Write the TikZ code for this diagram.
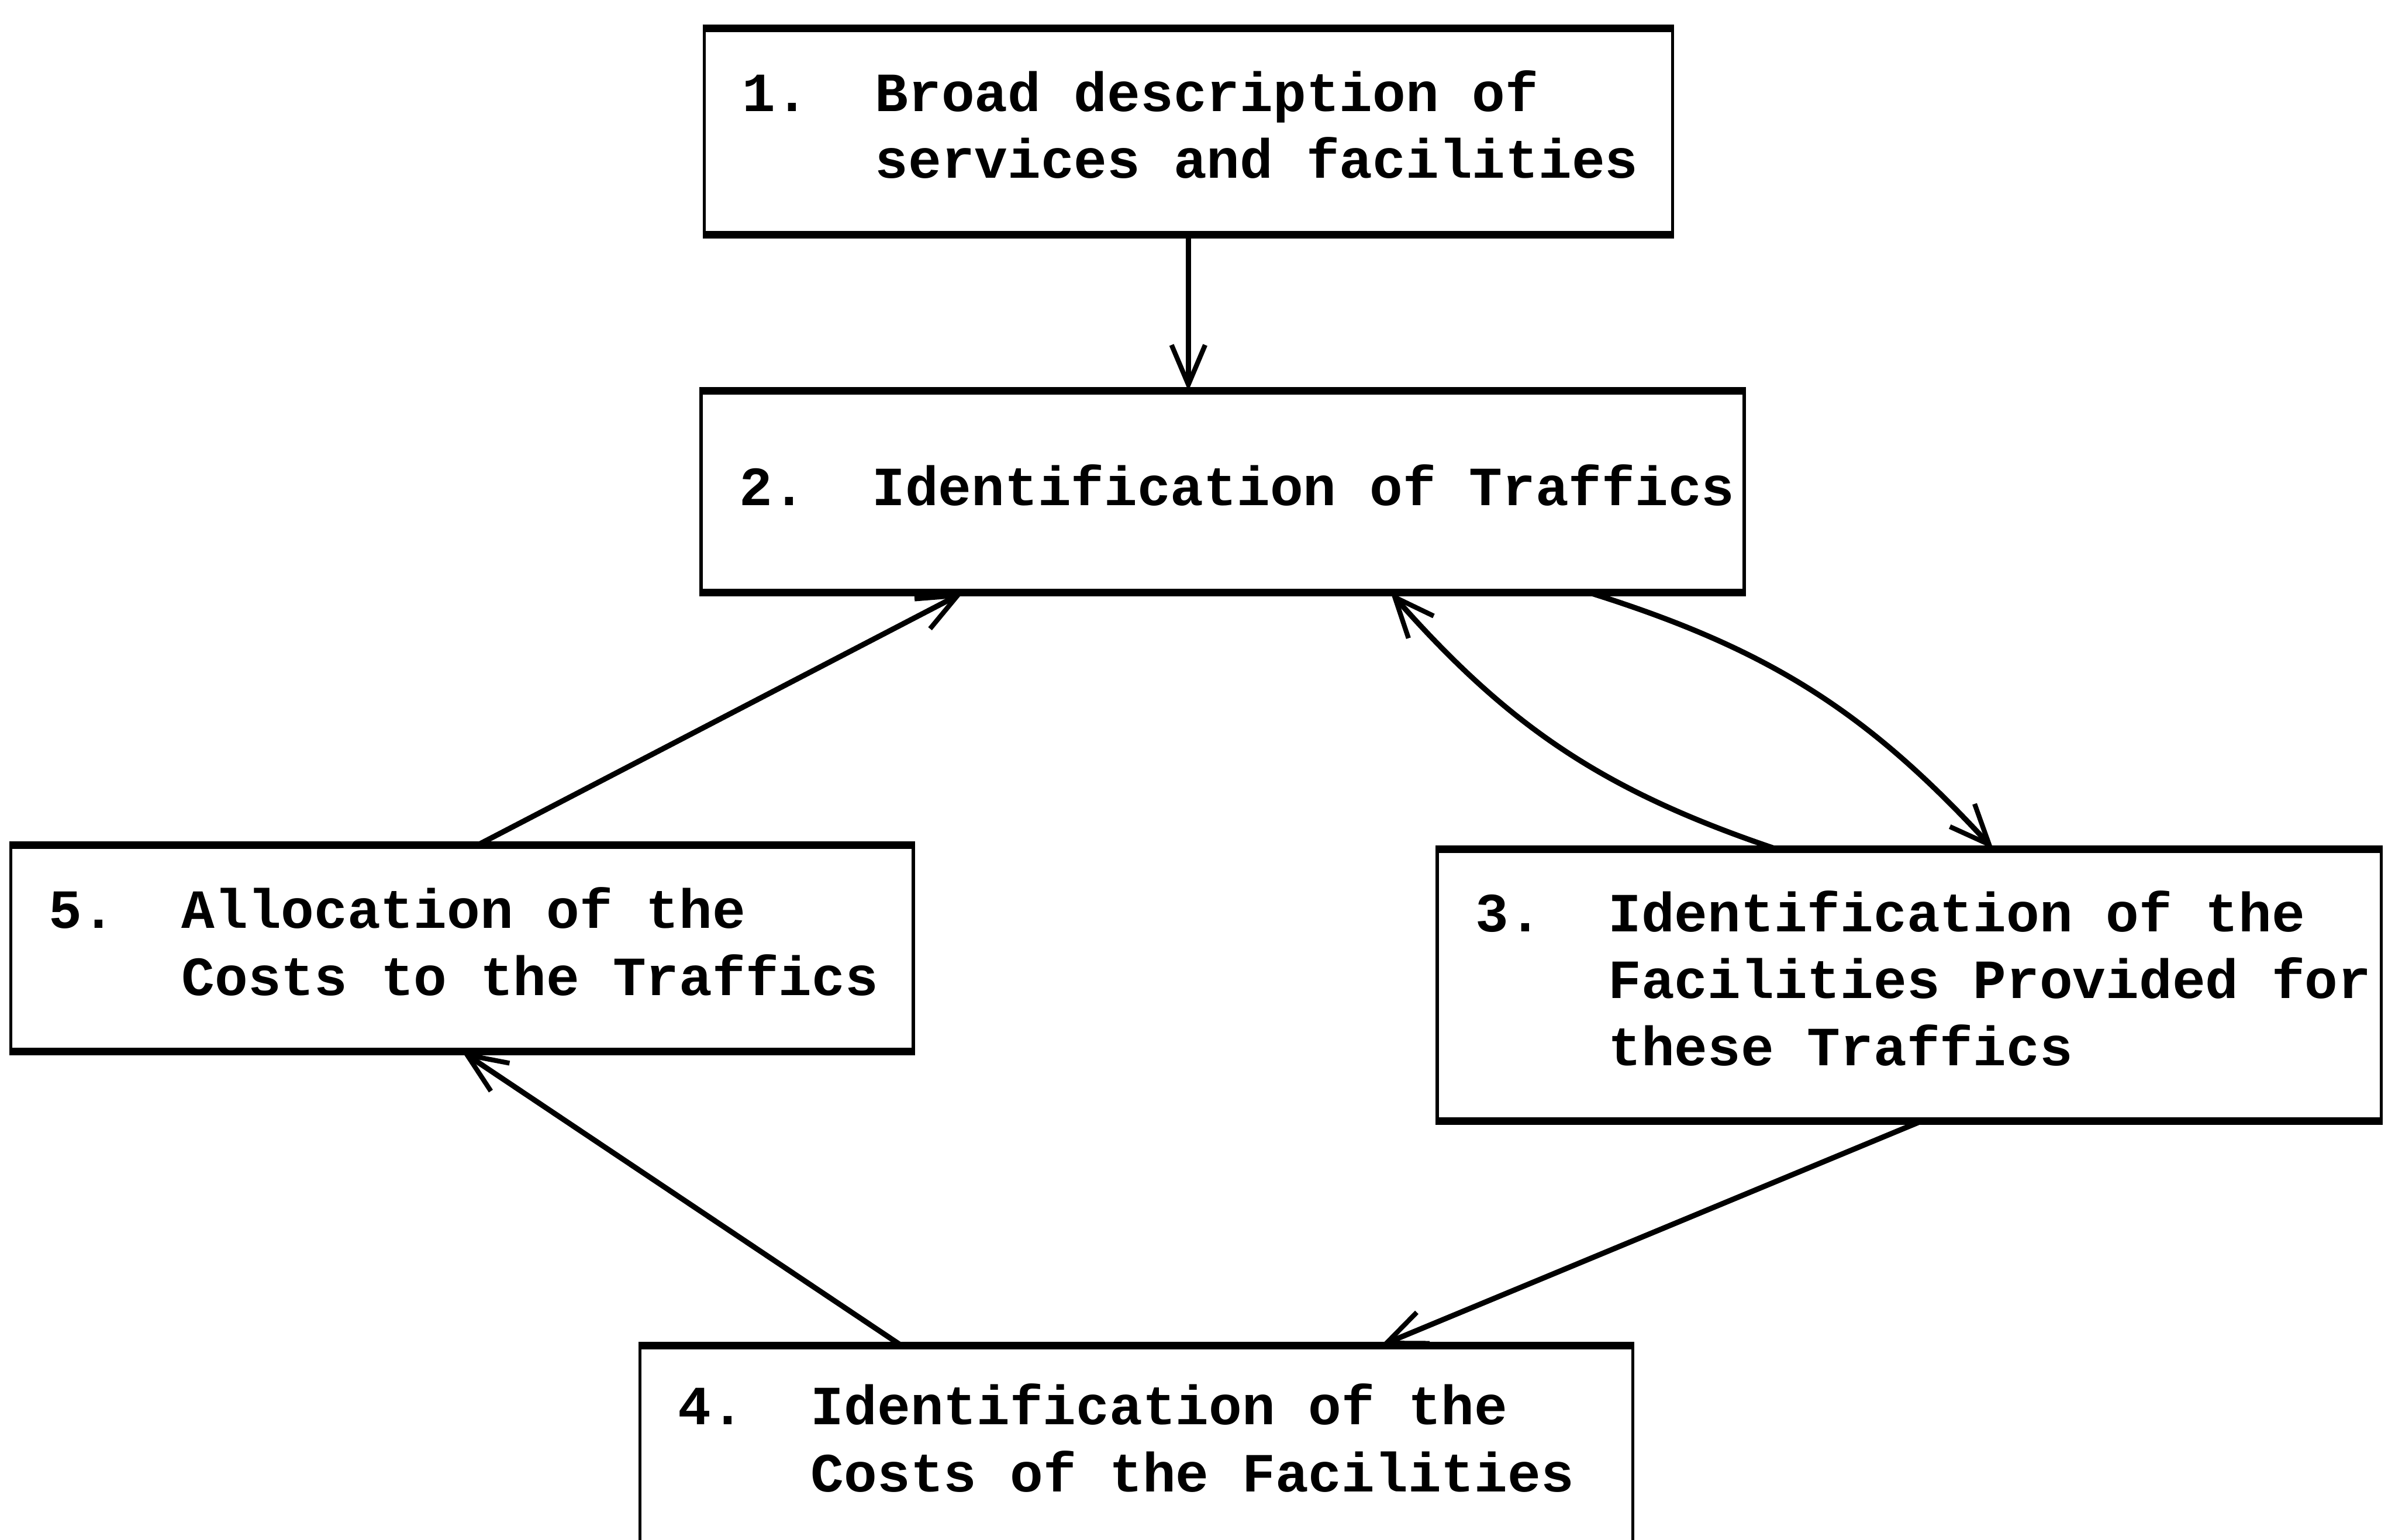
\documentclass[tikz,border=0pt]{standalone}
\usepackage{fontspec}
\setmonofont{Liberation Mono}
\usetikzlibrary{arrows.meta}
\tikzset{
  box/.style={draw, line width=0.6pt, inner xsep=0.25cm, inner ysep=0pt, align=flush left,
    font=\ttfamily\bfseries\fontsize{10.3pt}{12.5pt}\selectfont},
  rule/.style={line width=1.4pt},
  flow/.style={line width=1pt, -{Straight Barb[length=2.6mm, width=2.2mm, line width=0.9pt]}},
}
\newcommand{\numtext}[2]{\spaceskip=0pt\xspaceskip=0pt\mbox{#1\hspace{1.2em}\begin{tabular}[t]{@{}l@{}}#2\end{tabular}}}
\begin{document}
\begin{tikzpicture}
                \useasboundingbox (0,0) rectangle (15.68,10.08);

                \node[box, text width=5.84cm, minimum height=1.33cm] (b1) at (7.78, 9.22) {\numtext{1.}{Broad description of\\services and facilities}};
                \node[box, text width=6.33cm, minimum height=1.30cm] (b2) at (8.005, 6.86) {\numtext{2.}{Identification of Traffics}};
                \node[box, text width=5.68cm, minimum height=1.76cm] (b3) at (12.50, 3.63) {\numtext{3.}{Identification of the\\Facilities Provided for\\these Traffics}};
                \node[box, text width=6.00cm, minimum height=1.28cm] (b4) at (7.44, 0.62) {\numtext{4.}{Identification of the\\Costs of the Facilities}};
                \node[box, text width=5.41cm, minimum height=1.33cm] (b5) at (3.025, 3.87) {\numtext{5.}{Allocation of the\\Costs to the Traffics}};

                \foreach \n in {b1, b2, b3, b4, b5}
                    \draw[rule] (\n.north west) -- (\n.north east) (\n.south west) -- (\n.south east);

                \draw[flow] (b1.south) -- (b1.south |- b2.north);
                \draw[flow] ([xshift=1mm]b5.north) -- ([xshift=-17mm]b2.south);
                \draw[flow] ([xshift=24mm]b2.south) to[bend left=15] ([xshift=5.5mm]b3.north);
                \draw[flow] ([xshift=-8.7mm]b3.north) to[bend left=15] ([xshift=11mm]b2.south);
                \draw[flow] ([xshift=0.8mm]b3.south) -- ([xshift=16mm]b4.north);
                \draw[flow] ([xshift=-15.4mm]b4.north) -- (b5.south);
            \end{tikzpicture}
\end{document}
